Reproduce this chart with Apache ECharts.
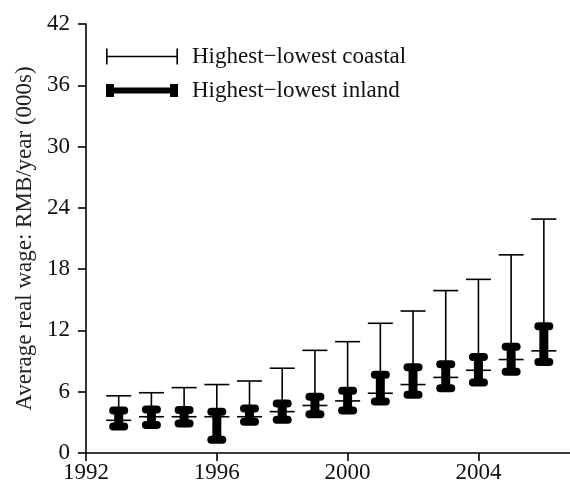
<!DOCTYPE html>
<html>
<head>
<meta charset="utf-8">
<script src="https://cdn.jsdelivr.net/npm/echarts@6/dist/echarts.min.js"></script>
<style>html,body{margin:0;padding:0;background:#fff}#c{width:570px;height:485px}</style>
</head>
<body>
<div id="c"></div>
<script>
const years = [1993, 1994, 1995, 1996, 1997, 1998, 1999, 2000, 2001, 2002, 2003, 2004, 2005, 2006];
const coastalLow  = [3.2, 3.55, 3.55, 3.55, 3.55, 4.05, 4.65, 5.1, 5.85, 6.7, 7.4, 8.1, 9.15, 10.0];
const coastalHigh = [5.6, 5.9, 6.4, 6.7, 7.05, 8.3, 10.05, 10.9, 12.7, 13.9, 15.9, 17.0, 19.4, 22.9];
const inlandLow   = [2.6, 2.75, 2.9, 1.3, 3.05, 3.25, 3.8, 4.15, 5.05, 5.7, 6.35, 6.9, 7.95, 8.9];
const inlandHigh  = [4.15, 4.25, 4.2, 4.05, 4.35, 4.85, 5.5, 6.1, 7.65, 8.4, 8.7, 9.4, 10.4, 12.4];
const yTicks = [0, 6, 12, 18, 24, 30, 36, 42];
const xTicks = [1992, 1996, 2000, 2004];

const FONT = 'Liberation Serif';
const FS = 23;
const coastalData = years.map((y, i) => [y, coastalLow[i], coastalHigh[i]]);
const inlandData = years.map((y, i) => [y, inlandLow[i], inlandHigh[i]]);

function renderCoastal(params, api) {
  const x = api.value(0);
  const pLo = api.coord([x, api.value(1)]);
  const pHi = api.coord([x, api.value(2)]);
  const hw = 12.5;
  const st = {stroke: '#000', lineWidth: 1.6};
  return {type: 'group', children: [
    {type: 'line', shape: {x1: pLo[0], y1: pLo[1], x2: pHi[0], y2: pHi[1]}, style: st},
    {type: 'line', shape: {x1: pHi[0] - hw, y1: pHi[1], x2: pHi[0] + hw, y2: pHi[1]}, style: st},
    {type: 'line', shape: {x1: pLo[0] - hw, y1: pLo[1], x2: pLo[0] + hw, y2: pLo[1]}, style: st}
  ]};
}
function renderInland(params, api) {
  const x = api.value(0);
  const pLo = api.coord([x, api.value(1)]);
  const pHi = api.coord([x, api.value(2)]);
  const sw = 9, bw = 19, bh = 8;
  const fill = {fill: '#000'};
  return {type: 'group', children: [
    {type: 'rect', shape: {x: pHi[0] - sw / 2, y: pHi[1], width: sw, height: pLo[1] - pHi[1]}, style: fill},
    {type: 'rect', shape: {x: pHi[0] - bw / 2, y: pHi[1] - bh / 2, width: bw, height: bh, r: 4}, style: fill},
    {type: 'rect', shape: {x: pLo[0] - bw / 2, y: pLo[1] - bh / 2, width: bw, height: bh, r: 4}, style: fill}
  ]};
}

const chart = echarts.init(document.getElementById('c'), null, {renderer: 'canvas'});
chart.setOption({
  animation: false,
  backgroundColor: '#fff',
  textStyle: {fontFamily: FONT},
  grid: {left: 86, right: 0, top: 24, bottom: 32, containLabel: false},
  legend: {
    orient: 'vertical',
    left: 101,
    top: 40,
    itemWidth: 72,
    itemHeight: 16,
    itemGap: 11,
    selectedMode: false,
    textStyle: {fontFamily: FONT, fontSize: FS, color: '#111', padding: [0, 0, 0, 9]},
    data: [
      {name: 'Highest\u2212lowest coastal', icon: 'path://M0,0h1.6v16h-1.6z M0,7.2h72v1.6h-72z M70.4,0h1.6v16h-1.6z', itemStyle: {color: '#000'}},
      {name: 'Highest\u2212lowest inland', icon: 'path://M0,1.5h8v13h-8z M0,5h72v6h-72z M64,1.5h8v13h-8z', itemStyle: {color: '#000'}}
    ]
  },
  xAxis: {
    type: 'value',
    min: 1992, max: 2006.8, interval: 4,
    splitLine: {show: false},
    axisLine: {lineStyle: {color: '#000', width: 1.6}},
    axisTick: {length: 8, lineStyle: {color: '#000', width: 1.6}},
    axisLabel: {
      color: '#111', fontFamily: FONT, fontSize: FS, margin: 8, showMaxLabel: false,
      formatter: v => (xTicks.indexOf(v) >= 0 ? String(v) : '')
    }
  },
  yAxis: {
    type: 'value',
    min: 0, max: 42, interval: 6,
    name: 'Average real wage: RMB/year (000s)',
    nameLocation: 'middle',
    nameGap: 50,
    nameRotate: 90,
    nameTextStyle: {fontFamily: FONT, fontSize: FS, color: '#222'},
    splitLine: {show: false},
    axisLine: {show: true, lineStyle: {color: '#000', width: 1.6}},
    axisTick: {show: true, length: 8, lineStyle: {color: '#000', width: 1.6}},
    axisLabel: {
      color: '#111', fontFamily: FONT, fontSize: FS, margin: 16,
      formatter: v => (yTicks.indexOf(v) >= 0 ? String(v) : '')
    }
  },
  series: [
    {name: 'Highest\u2212lowest coastal', type: 'custom', renderItem: renderCoastal,
     encode: {x: 0, y: [1, 2]}, data: coastalData, itemStyle: {color: '#000'}, z: 2},
    {name: 'Highest\u2212lowest inland', type: 'custom', renderItem: renderInland,
     encode: {x: 0, y: [1, 2]}, data: inlandData, itemStyle: {color: '#000'}, z: 3}
  ]
});
</script>
</body>
</html>
